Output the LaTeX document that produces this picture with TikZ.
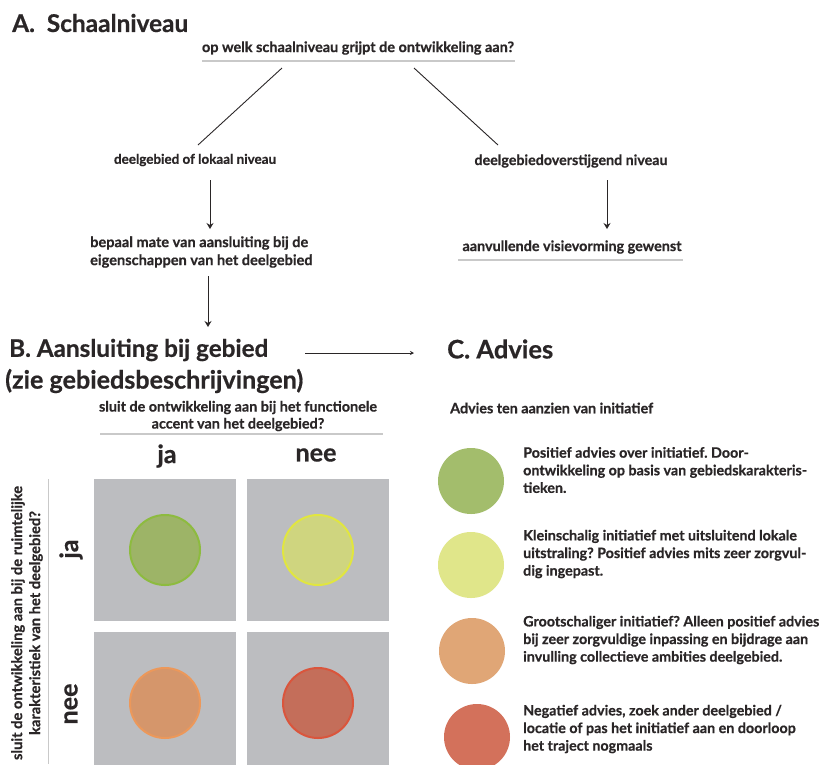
\documentclass[tikz,border=0pt]{standalone}
\usepackage{fontspec}
\setmainfont{Lato}[BoldFeatures={FakeBold=0.6}]
\usetikzlibrary{arrows.meta}
\frenchspacing

\definecolor{ink}{HTML}{2A2627}
\definecolor{rulegray}{HTML}{C9C9C9}
\definecolor{cellgray}{HTML}{BCBDC0}
\definecolor{gFill}{HTML}{9DB467}\definecolor{gLine}{HTML}{8DBB3F}
\definecolor{yFill}{HTML}{CFD57F}\definecolor{yLine}{HTML}{E1E63F}
\definecolor{oFill}{HTML}{D5966B}\definecolor{oLine}{HTML}{EC985A}
\definecolor{rFill}{HTML}{C46E5A}\definecolor{rLine}{HTML}{DA553C}
\definecolor{lgG}{HTML}{A3BD6C}\definecolor{lgY}{HTML}{E0E68A}
\definecolor{lgO}{HTML}{E0A676}\definecolor{lgR}{HTML}{D3715B}

% Bold font whose size is chosen so that a given line is a given width
% #1 width (pt), #2 line spacing (pt), #3 the line to measure
\newlength\fitlen
\newcommand\fitfont[3]{%
  \settowidth\fitlen{\fontsize{10}{10}\selectfont\bfseries #3}%
  \pgfmathsetmacro\fitsz{10*#1/\fitlen}%
  \fontsize{\fitsz}{#2}\selectfont\bfseries}

\tikzset{
  txt/.style={text=ink, inner sep=0pt},
  grayrule/.style={draw=rulegray, line width=1.6pt},
  link/.style={draw=ink, line width=0.9pt},
  flow/.style={draw=ink, line width=0.9pt, -{Stealth[length=6pt,width=7pt,inset=2pt]}},
  cell/.style={fill=cellgray, draw=none, minimum size=142pt, inner sep=0pt},
  dot/.style={circle, minimum size=70pt, inner sep=0pt, line width=2pt},
  legdot/.style={circle, minimum size=66pt, inner sep=0pt, draw=none},
  legend/.style={txt, anchor=west, align=left,
    font={\fitfont{296}{17.6}{Grootschaliger initiatief? Alleen positief advies}}},
  hdr/.style={txt, font={\fitfont{41}{24}{nee}}},
}

\begin{document}
\begin{tikzpicture}[x=1pt, y=-1pt]
\useasboundingbox (0,0) rectangle (821,764);
\fill[white] (0,0) rectangle (821,764);

% ---- A. Schaalniveau ----
\node[txt, anchor=west, font={\fitfont{176}{26}{A.\ \ Schaalniveau}}] (tA) at (12,23) {A.\ \ Schaalniveau};
\node[txt, font={\fitfont{312}{17}{op welk schaalniveau grijpt de ontwikkeling aan?}}] (q1) at (358,48)
  {op welk schaalniveau grijpt de ontwikkeling aan?};
\coordinate (r1a) at (202,61); \coordinate (r1b) at (515,61);
\draw[grayrule] (r1a) -- (r1b);

\node[txt, font={\fitfont{162}{17}{deelgebied of lokaal niveau}}] (lok) at (195,160) {deelgebied of lokaal niveau};
\node[txt, font={\fitfont{193}{17}{deelgebiedoverstijgend niveau}}] (over) at (571,161) {deelgebiedoverstijgend niveau};

\coordinate (dLtop) at (282,68); \coordinate (dLbot) at (198,145);
\coordinate (dRtop) at (414,68); \coordinate (dRbot) at (498,145);
\draw[link] (dLtop) -- (dLbot);
\draw[link] (dRtop) -- (dRbot);

\node[txt, align=left, anchor=west, font={\fitfont{218}{18}{bepaal mate van aansluiting bij de}}] (bep) at (90,252)
  {bepaal mate van aansluiting bij de\\eigenschappen van het deelgebied};
\node[txt, font={\fitfont{219}{17}{aanvullende visievorming gewenst}}] (aanv) at (572,247) {aanvullende visievorming gewenst};
\coordinate (r2a) at (458,260); \coordinate (r2b) at (683,260);
\draw[grayrule] (r2a) -- (r2b);

\coordinate (aL1) at (210,180); \coordinate (aL2) at (210,229);
\coordinate (aR1) at (607,180); \coordinate (aR2) at (607,229);
\draw[flow] (aL1) -- (aL2);
\draw[flow] (aR1) -- (aR2);
\coordinate (aB1) at (208,276); \coordinate (aB2) at (208,327);
\draw[flow] (aB1) -- (aB2);

% ---- B. Aansluiting / C. Advies ----
\node[txt, anchor=west, font={\fitfont{259}{26}{B.\ Aansluiting bij gebied}}] (tB1) at (9,350) {B.\ Aansluiting bij gebied};
\node[txt, anchor=west, font={\fitfont{298}{26}{(zie gebiedsbeschrijvingen)}}] (tB2) at (5,381) {(zie gebiedsbeschrijvingen)};
\node[txt, anchor=west, font={\fitfont{106}{26}{C.\ Advies}}] (tC) at (447,349) {C.\ Advies};
\coordinate (bc1) at (305,353); \coordinate (bc2) at (414,353);
\draw[draw=ink, line width=0.7pt, -{Stealth[length=4pt,width=4pt]}] (bc1) -- (bc2);

\node[txt, align=center, font={\fitfont{278}{17}{sluit de ontwikkeling aan bij het functionele}}] (q2) at (238,416)
  {sluit de ontwikkeling aan bij het functionele\\accent van het deelgebied?};
\coordinate (r3a) at (100,434); \coordinate (r3b) at (383,434);
\draw[grayrule] (r3a) -- (r3b);
\node[txt, anchor=west, font={\fitfont{203}{17}{Advies ten aanzien van initiatief}}] (advq) at (450,408) {Advies ten aanzien van initiatief};

% column / row headers
\node[hdr] (cJa) at (167,456) {ja};
\node[hdr] (cNee) at (316,455) {nee};
\node[hdr, rotate=90] (rJa) at (71,549) {ja};
\node[hdr, rotate=90] (rNee) at (71,704) {nee};
\node[txt, rotate=90, align=center, font={\fitfont{274}{18}{sluit de ontwikkeling aan bij de ruimtelijke}}] (q3) at (27,623)
  {sluit de ontwikkeling aan bij de ruimtelijke\\karakteristiek van het deelgebied?};
\coordinate (vr1) at (48.5,479); \coordinate (vr2) at (48.5,764);
\draw[grayrule] (vr1) -- (vr2);

% ---- matrix ----
\node[cell] (c11) at (165,550) {};
\node[cell] (c12) at (318,550) {};
\node[cell] (c21) at (165,703) {};
\node[cell] (c22) at (318,703) {};
\node[dot, fill=gFill, draw=gLine] (d11) at (c11) {};
\node[dot, fill=yFill, draw=yLine] (d12) at (c12) {};
\node[dot, fill=oFill, draw=oLine] (d21) at (c21) {};
\node[dot, fill=rFill, draw=rLine] (d22) at (c22) {};

% ---- legend ----
\node[legdot, fill=lgG] (lg1) at (471,481) {};
\node[legdot, fill=lgY] (lg2) at (471,565) {};
\node[legdot, fill=lgO] (lg3) at (472,651) {};
\node[legdot, fill=lgR] (lg4) at (477,737) {};

\node[legend] (t1) at (523,470) {Positief advies over initiatief. Door-\\ontwikkeling op basis van gebiedskarakteris-\\tieken.};
\node[legend] (t2) at (523,554) {Kleinschalig initiatief met uitsluitend lokale\\uitstraling? Positief advies mits zeer zorgvul-\\dig ingepast.};
\node[legend] (t3) at (523,640) {Grootschaliger initiatief? Alleen positief advies\\bij zeer zorgvuldige inpassing en bijdrage aan\\invulling collectieve ambities deelgebied.};
\node[legend] (t4) at (523,729) {Negatief advies, zoek ander deelgebied /\\locatie of pas het initiatief aan en doorloop\\het traject nogmaals};
\end{tikzpicture}
\end{document}
